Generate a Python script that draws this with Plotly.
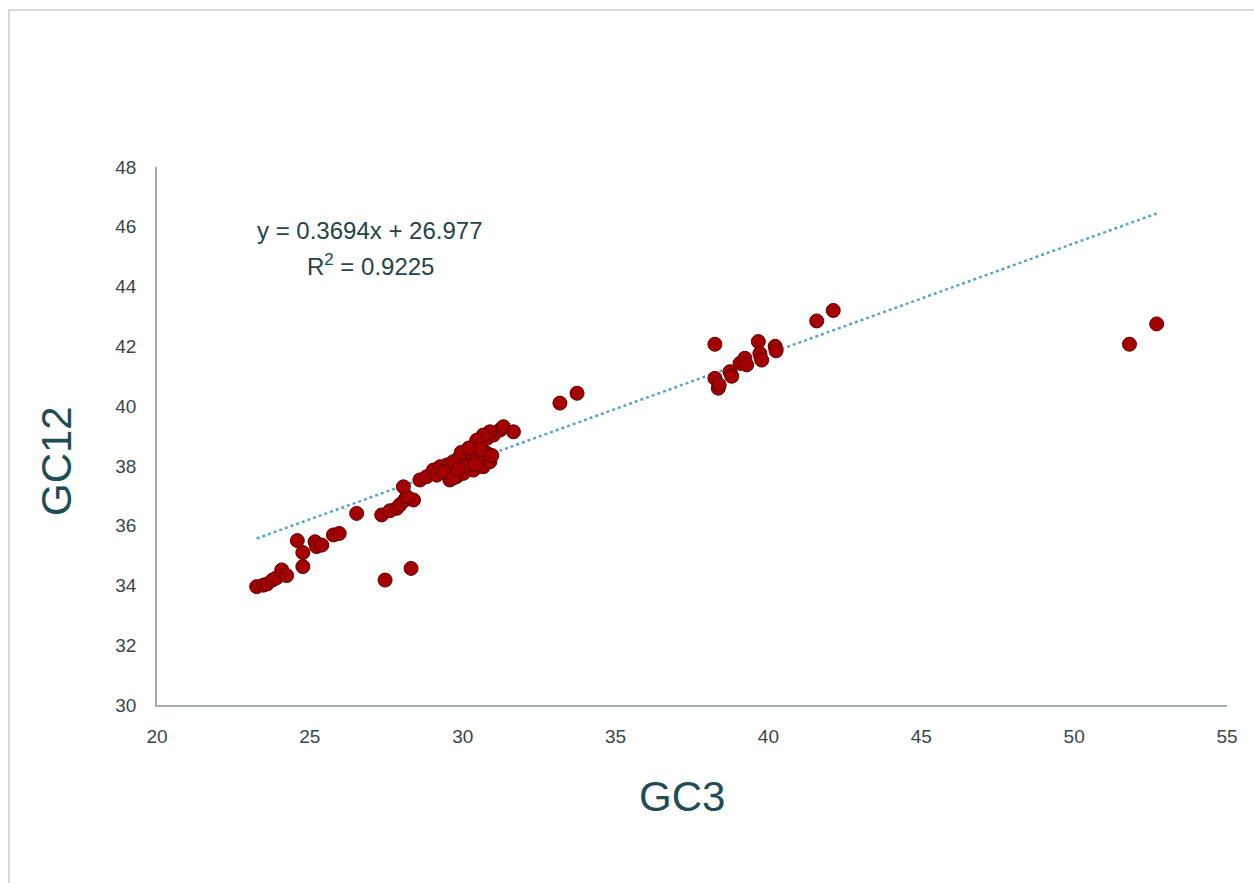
import plotly.graph_objects as go

# GC3 (x) and GC12 (y) values
gc3 = [23.26, 23.48, 23.60, 23.78, 23.90, 24.08, 24.24, 24.77, 24.77, 24.59,
       25.17, 25.22, 25.39, 25.77, 25.96, 26.53, 27.35, 27.62, 27.84, 27.95,
       28.10, 28.39, 28.17, 28.06, 27.46, 28.31,
       28.60, 28.82, 29.04, 29.26, 29.48, 29.69, 29.91, 30.13, 30.35, 30.57,
       30.79, 31.00, 31.22, 31.33, 31.66, 30.89, 30.67, 30.46, 29.58, 29.80,
       30.02, 30.35, 30.67, 30.89, 29.15, 29.37, 30.24, 30.57, 30.79, 29.70,
       30.10, 30.45, 29.95, 30.55, 30.20, 29.85, 30.40, 30.95,
       33.18, 33.74,
       38.25, 38.25, 38.36, 38.39, 38.74, 38.80, 39.07, 39.23, 39.29, 39.67,
       39.72, 39.78, 40.22, 40.25, 41.58, 42.12,
       51.81, 52.70]
gc12 = [33.96, 34.01, 34.05, 34.18, 34.25, 34.52, 34.33, 34.63, 35.10, 35.50,
        35.46, 35.30, 35.35, 35.69, 35.74, 36.41, 36.36, 36.50, 36.58, 36.70,
        36.85, 36.86, 36.97, 37.30, 34.18, 34.57,
        37.53, 37.64, 37.86, 37.97, 38.03, 38.14, 38.31, 38.47, 38.64, 38.75,
        38.92, 39.03, 39.20, 39.31, 39.14, 39.14, 39.03, 38.86, 37.53, 37.64,
        37.75, 37.86, 37.97, 38.14, 37.69, 37.80, 38.14, 38.31, 38.42, 37.60,
        38.00, 38.20, 38.45, 38.55, 38.60, 37.90, 38.05, 38.35,
        40.10, 40.43,
        42.07, 40.93, 40.60, 40.71, 41.15, 41.00, 41.43, 41.60, 41.38, 42.16,
        41.76, 41.54, 42.00, 41.85, 42.85, 43.20,
        42.07, 42.75]

slope = 0.3694
intercept = 26.977
r2 = 0.9225
trend_x = [min(gc3), max(gc3)]
trend_y = [slope * v + intercept for v in trend_x]

x_ticks = [20, 25, 30, 35, 40, 45, 50, 55]
y_ticks = [30, 32, 34, 36, 38, 40, 42, 44, 46, 48]

fig = go.Figure()
fig.add_trace(go.Scatter(
    x=trend_x, y=trend_y, mode="lines",
    line=dict(color="#5ba3cf", width=2.5, dash="dot"),
    hoverinfo="skip", showlegend=False))
fig.add_trace(go.Scatter(
    x=gc3, y=gc12, mode="markers",
    marker=dict(size=14, color="#a50000", line=dict(color="#5c0000", width=1)),
    showlegend=False))

axis_common = dict(showgrid=False, zeroline=False, showline=True,
                   linecolor="#a3adad", linewidth=1.5, ticks="",
                   tickfont=dict(family="Liberation Sans, Arial, sans-serif",
                                 size=19, color="#37474b"))
fig.update_xaxes(range=[20, 55], tickvals=x_ticks, ticklabelstandoff=13,
                 **axis_common)
fig.update_yaxes(range=[30, 48], tickvals=y_ticks, ticklabelstandoff=15,
                 **axis_common)

L, R, T, B = 157, 27, 167, 178
W, H = 1254, 883
pw, ph = W - L - R, H - T - B

def px(xp):
    return (xp - L) / pw

def py(yp):
    return (H - B - yp) / ph

title_font = dict(family="Liberation Sans, Arial, sans-serif", size=42, color="#1f4d56")
eq_font = dict(family="Liberation Sans, Arial, sans-serif", size=24, color="#24444a")

fig.update_layout(
    width=W, height=H,
    margin=dict(l=L, r=R, t=T, b=B),
    plot_bgcolor="white", paper_bgcolor="white",
    shapes=[dict(type="rect", xref="paper", yref="paper",
                 x0=px(9), x1=px(1265), y0=py(10), y1=py(900),
                 line=dict(color="#d3dbdb", width=2), layer="below")],
    annotations=[
        dict(text="GC3", xref="paper", yref="paper", x=px(682), y=py(797),
             showarrow=False, font=title_font, xanchor="center", yanchor="middle"),
        dict(text="GC12", xref="paper", yref="paper", x=px(56), y=py(461),
             showarrow=False, font=title_font, textangle=-90,
             xanchor="center", yanchor="middle"),
        dict(text=f"y = {slope}x + {intercept}", xref="paper", yref="paper",
             x=px(370), y=py(230), showarrow=False, font=eq_font,
             xanchor="center", yanchor="middle"),
        dict(text=f"R<sup>2</sup> = {r2}", xref="paper", yref="paper",
             x=px(370), y=py(265), showarrow=False, font=eq_font,
             xanchor="center", yanchor="middle"),
    ],
)

fig.write_html("out.html")
